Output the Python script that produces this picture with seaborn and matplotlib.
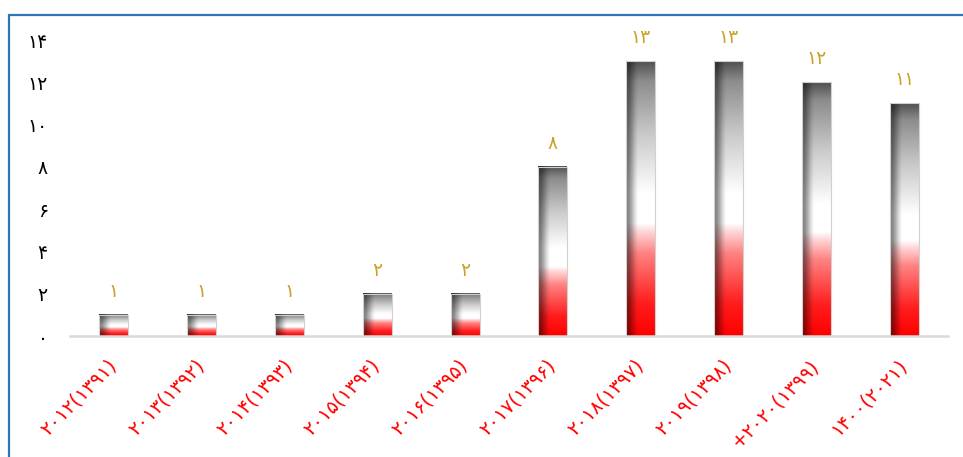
import numpy as np
import pandas as pd
import matplotlib
matplotlib.use("Agg")
import matplotlib.pyplot as plt
from matplotlib.lines import Line2D
import matplotlib.transforms as mtransforms
import seaborn as sns

# Data
periods = ["۲۰۱۲(۱۳۹۱)", "۲۰۱۳(۱۳۹۲)", "۲۰۱۴(۱۳۹۳)", "۲۰۱۵(۱۳۹۴)", "۲۰۱۶(۱۳۹۵)",
           "۲۰۱۷(۱۳۹۶)", "۲۰۱۸(۱۳۹۷)", "۲۰۱۹(۱۳۹۸)", "+۲۰۲۰(۱۳۹۹)", "۱۴۰۰(۲۰۲۱)"]
counts = [1, 1, 1, 2, 2, 8, 13, 13, 12, 11]
value_labels = ["۱", "۱", "۱", "۲", "۲", "۸", "۱۳", "۱۳", "۱۲", "۱۱"]
y_ticks = [0, 2, 4, 6, 8, 10, 12, 14]
y_tick_labels = ["۰", "۲", "۴", "۶", "۸", "۱۰", "۱۲", "۱۴"]

df = pd.DataFrame({"period": periods, "count": counts})

sns.set_theme(style="white")
plt.rcParams["font.family"] = ["DejaVu Sans"]

fig = plt.figure(figsize=(9.63, 4.57), dpi=100)
ax = fig.add_axes([70 / 963, 1 - 336 / 457, 878 / 963, 296 / 457])

sns.barplot(data=df, x="period", y="count", width=0.33, color="white",
            edgecolor="#D0D0D0", linewidth=0.8, ax=ax, zorder=3)


def bar_gradient(n_rows=240, n_cols=48):
    """Vertical red -> white -> dark grey fade with a shaded left edge."""
    t = np.linspace(0, 1, n_rows)  # 0 = bottom, 1 = top
    stops = [0.0, 0.12, 0.30, 0.38, 0.41, 0.52, 0.74, 0.93, 1.0]
    r = [255, 255, 255, 255, 255, 255, 200, 140, 80]
    g = [0, 30, 130, 215, 255, 255, 200, 140, 80]
    b = [0, 30, 130, 215, 255, 255, 200, 140, 80]
    col = np.stack([np.interp(t, stops, r), np.interp(t, stops, g),
                    np.interp(t, stops, b)], axis=-1) / 255.0
    x = np.linspace(0, 1, n_cols)
    u = np.clip(x / 0.45, 0, 1)
    shade = 0.5 + 0.5 * (u * u * (3 - 2 * u))
    img = col[:, None, :] * shade[None, :, None]
    return np.clip(img, 0, 1)


grad = bar_gradient()
for patch in ax.patches:
    x0 = patch.get_x()
    w = patch.get_width()
    h = patch.get_height()
    patch.set_facecolor("none")
    ax.imshow(grad, extent=[x0, x0 + w, 0, h], origin="lower",
              aspect="auto", interpolation="bilinear", zorder=2)

for patch, lab in zip(ax.patches, value_labels):
    ax.annotate(lab, (patch.get_x() + patch.get_width() / 2, patch.get_height()),
                xytext=(0, 17), textcoords="offset points", ha="center",
                va="center", color="#C9A227", fontsize=13.5, annotation_clip=False)

ax.set_xlim(-0.5, len(periods) - 0.5)
ax.set_ylim(0, 14)
ax.set_yticks(y_ticks)
ax.set_yticklabels(y_tick_labels, fontsize=13.5, color="black")
ax.tick_params(axis="y", length=0, pad=16)
ax.tick_params(axis="x", length=0, pad=14)
ax.set_xticks(range(len(periods)))
ax.set_xticklabels(periods, rotation=45, ha="right", va="top",
                   rotation_mode="anchor", color="#FF0000", fontsize=14)
shift = mtransforms.ScaledTranslation(-7 / 100, 0, fig.dpi_scale_trans)
for lbl in ax.get_xticklabels():
    lbl.set_transform(lbl.get_transform() + shift)
ax.set_xlabel("")
ax.set_ylabel("")
for side in ["top", "right", "left"]:
    ax.spines[side].set_visible(False)
ax.spines["bottom"].set_color("#D9D9D9")
ax.spines["bottom"].set_linewidth(1.8)
ax.spines["bottom"].set_zorder(4)

# Outer frame (top and left edges)
frame_color = "#2E75B6"
fig.add_artist(Line2D([8.5 / 963, 1.0], [1 - 14.5 / 457, 1 - 14.5 / 457],
                      color=frame_color, linewidth=1.6, transform=fig.transFigure))
fig.add_artist(Line2D([8.5 / 963, 8.5 / 963], [0.0, 1 - 14.5 / 457],
                      color=frame_color, linewidth=1.6, transform=fig.transFigure))

fig.savefig("out.png", dpi=100, facecolor="white")
